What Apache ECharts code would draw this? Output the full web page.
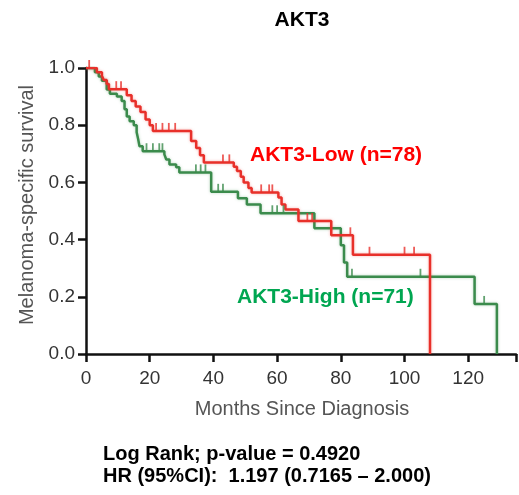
<!DOCTYPE html>
<html><head><meta charset="utf-8">
<script src="https://cdn.jsdelivr.net/npm/echarts@6/dist/echarts.min.js"></script>
<style>html,body{margin:0;padding:0;background:#fff}#c{width:519px;height:495px}</style>
</head><body><div id="c"></div>
<script>
// Kaplan-Meier steps (months, survival)
var lowTimes = [0, 3.4, 5, 5.6, 6.5, 7.2, 12.8, 14.3, 15.6, 17.1, 18.7, 20, 21, 33, 34.6, 35.8, 37, 46.4, 47.4, 48.6, 49.5, 51, 52, 60.4, 61.4, 62.6, 66.7, 77, 83.8, 108];
var lowSurv  = [1, 0.985, 0.972, 0.958, 0.944, 0.926, 0.905, 0.885, 0.865, 0.846, 0.82, 0.80, 0.78, 0.745, 0.72, 0.695, 0.67, 0.655, 0.64, 0.62, 0.60, 0.58, 0.565, 0.547, 0.523, 0.505, 0.465, 0.415, 0.347, 0];
var lowCensor = [1, 9.5, 11, 22, 24, 26, 28, 43, 45, 55, 57.5, 58.5, 69.5, 71, 83, 89, 100, 103];

var highTimes = [0, 2.8, 4, 5, 6.5, 7.5, 9.7, 11.2, 12.1, 12.8, 13.7, 15, 15.9, 16.4, 16.8, 17.8, 24.6, 25.2, 26.2, 28.3, 29.3, 39.3, 47.7, 50.5, 54.8, 71.7, 80, 81, 82, 122, 129];
var highSurv  = [1, 0.985, 0.97, 0.955, 0.925, 0.91, 0.9, 0.885, 0.856, 0.83, 0.814, 0.80, 0.775, 0.75, 0.726, 0.709, 0.698, 0.68, 0.663, 0.653, 0.635, 0.567, 0.545, 0.523, 0.492, 0.44, 0.38, 0.32, 0.27, 0.175, 0];
var highCensor = [19, 21, 23, 24, 34.5, 36, 37.5, 41.5, 43, 58.5, 60, 62, 83.5, 105, 125];

var xTicks = [0, 20, 40, 60, 80, 100, 120];
var yTicks = [0, 0.2, 0.4, 0.6, 0.8, 1.0];

var lowName = 'AKT3-Low (n=78)';
var highName = 'AKT3-High (n=71)';
var titleText = 'AKT3';
var statLine1 = 'Log Rank; p-value = 0.4920';
var statLine2 = 'HR (95%CI):  1.197 (0.7165 \u2013 2.000)';

var RED = '#e8302a', GREEN = '#3b8b4c';

function pairs(t, s) { return t.map(function (v, i) { return [v, s[i]]; }); }
function survAt(t, s, x) { var r = s[0]; for (var i = 0; i < t.length; i++) { if (t[i] <= x) r = s[i]; } return r; }
function censorPts(c, t, s) { return c.map(function (x) { return [x, survAt(t, s, x)]; }); }

var chart = echarts.init(document.getElementById('c'));
var FONT = 'Liberation Sans, Arial, sans-serif';
chart.setOption({
  animation: false,
  grid: { left: 86, right: 0, top: 68, bottom: 141, containLabel: false },
  xAxis: {
    type: 'value', min: 0, max: 135, interval: 20,
    axisLine: { lineStyle: { color: '#111', width: 2.5 } },
    axisTick: { show: true, length: 8, lineStyle: { color: '#111', width: 2.5 } },
    axisLabel: { margin: 15, fontSize: 19, color: '#333', fontFamily: FONT,
      formatter: function (v) { return xTicks.indexOf(v) >= 0 ? String(v) : ''; } },
    splitLine: { show: false }
  },
  yAxis: {
    type: 'value', min: 0, max: 1, interval: 0.2,
    axisLine: { show: true, lineStyle: { color: '#111', width: 2.5 } },
    axisTick: { show: true, length: 8, lineStyle: { color: '#111', width: 2.5 } },
    axisLabel: { margin: 11, fontSize: 19, color: '#333', fontFamily: FONT,
      formatter: function (v) { return v.toFixed(1); } },
    splitLine: { show: false }
  },
  series: [
    { type: 'line', step: 'end', data: pairs(highTimes, highSurv), symbol: 'none', z: 3,
      lineStyle: { color: GREEN, width: 2.5, shadowColor: 'rgba(59,139,76,0.35)', shadowBlur: 3 } },
    { type: 'line', step: 'end', data: pairs(lowTimes, lowSurv), symbol: 'none', z: 4,
      lineStyle: { color: RED, width: 2.5, shadowColor: 'rgba(232,48,42,0.35)', shadowBlur: 3 } },
    { type: 'scatter', data: censorPts(highCensor, highTimes, highSurv), symbol: 'rect',
      symbolSize: [1.8, 8], symbolOffset: [0, -4], itemStyle: { color: GREEN }, z: 5 },
    { type: 'scatter', data: censorPts(lowCensor, lowTimes, lowSurv), symbol: 'rect',
      symbolSize: [1.8, 8], symbolOffset: [0, -4], itemStyle: { color: RED }, z: 6 }
  ],
  graphic: [
    { type: 'text', x: 302, y: 20, style: { text: titleText, font: 'bold 21px ' + FONT, fill: '#000', align: 'center', verticalAlign: 'middle' } },
    { type: 'text', x: 27, y: 205, rotation: Math.PI / 2, style: { text: 'Melanoma-specific survival', font: '20px ' + FONT, fill: '#555', align: 'center', verticalAlign: 'middle' } },
    { type: 'text', x: 302, y: 409, style: { text: 'Months Since Diagnosis', font: '20px ' + FONT, fill: '#555', align: 'center', verticalAlign: 'middle' } },
    { type: 'text', x: 250, y: 155, style: { text: lowName, font: 'bold 21px ' + FONT, fill: '#ff0000', align: 'left', verticalAlign: 'middle' } },
    { type: 'text', x: 237, y: 297, style: { text: highName, font: 'bold 21px ' + FONT, fill: '#00a651', align: 'left', verticalAlign: 'middle' } },
    { type: 'text', x: 103, y: 454, style: { text: statLine1, font: 'bold 20px ' + FONT, fill: '#000', align: 'left', verticalAlign: 'middle' } },
    { type: 'text', x: 103, y: 476, style: { text: statLine2, font: 'bold 20px ' + FONT, fill: '#000', align: 'left', verticalAlign: 'middle' } }
  ]
});
</script>
</body></html>
